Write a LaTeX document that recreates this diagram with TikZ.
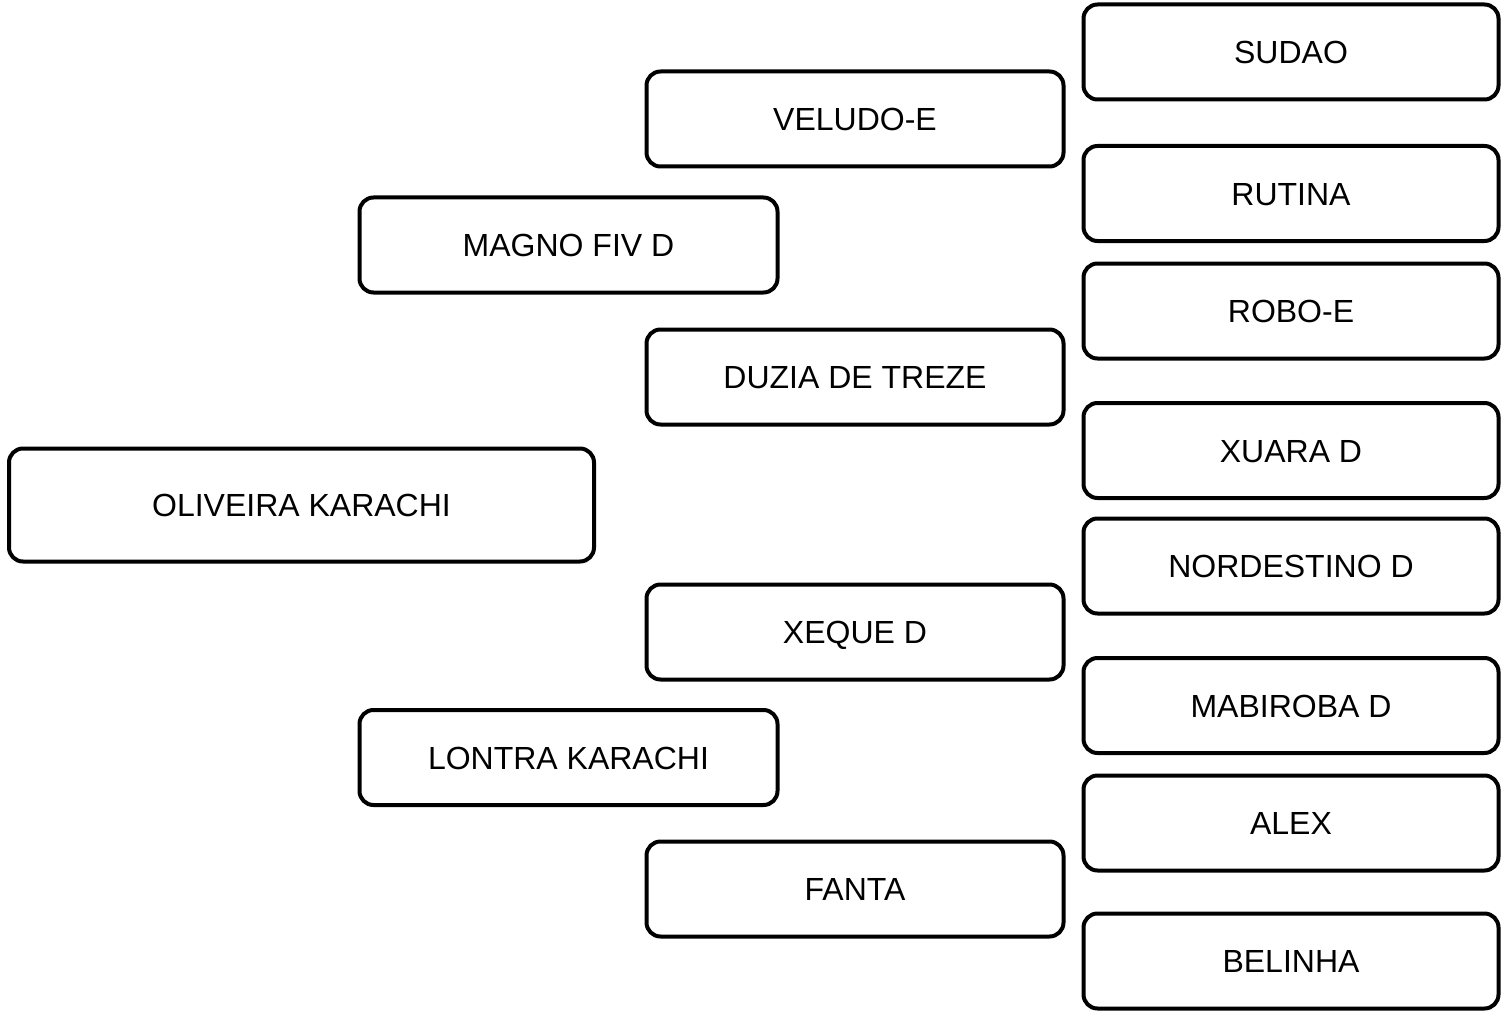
\documentclass[tikz,border=0pt]{standalone}
\usepackage{fontspec}
\setmainfont{Liberation Sans}
\begin{document}
\begin{tikzpicture}[x=1pt,y=-1pt,
  pbox/.style={draw=black, fill=white, line width=4pt, rounded corners=14pt, rectangle,
    inner sep=0pt, minimum height=95pt, text height=23pt, text depth=0pt,
    font=\fontsize{32}{38}\selectfont},
  rbox/.style={pbox, minimum width=415pt},
  mbox/.style={pbox, minimum width=417pt},
  lbox/.style={pbox, minimum width=418pt},
  obox/.style={pbox, minimum width=585pt, minimum height=113pt}]
\useasboundingbox (0,0) rectangle (1501,1011);
% generation 3 (right)
\node[rbox] (sudao) at (1291,52) {SUDAO};
\node[rbox] (rutina) at (1291,193.5) {RUTINA};
\node[rbox] (robo) at (1291,311) {ROBO-E};
\node[rbox] (xuara) at (1291,450.5) {XUARA D};
\node[rbox] (nordestino) at (1291,566) {NORDESTINO D};
\node[rbox] (mabiroba) at (1291,705.5) {MABIROBA D};
\node[rbox] (alex) at (1291,823) {ALEX};
\node[rbox] (belinha) at (1291,961) {BELINHA};
% generation 2
\node[mbox] (veludo) at (855,119) {VELUDO-E};
\node[mbox] (duzia) at (855,377) {DUZIA DE TREZE};
\node[mbox] (xeque) at (855,632) {XEQUE D};
\node[mbox] (fanta) at (855,889) {FANTA};
% generation 1
\node[lbox] (magno) at (568.5,245) {MAGNO FIV D};
\node[lbox] (lontra) at (568.5,757.5) {LONTRA KARACHI};
% subject
\node[obox] (oliveira) at (301.5,505) {OLIVEIRA KARACHI};
\end{tikzpicture}
\end{document}
